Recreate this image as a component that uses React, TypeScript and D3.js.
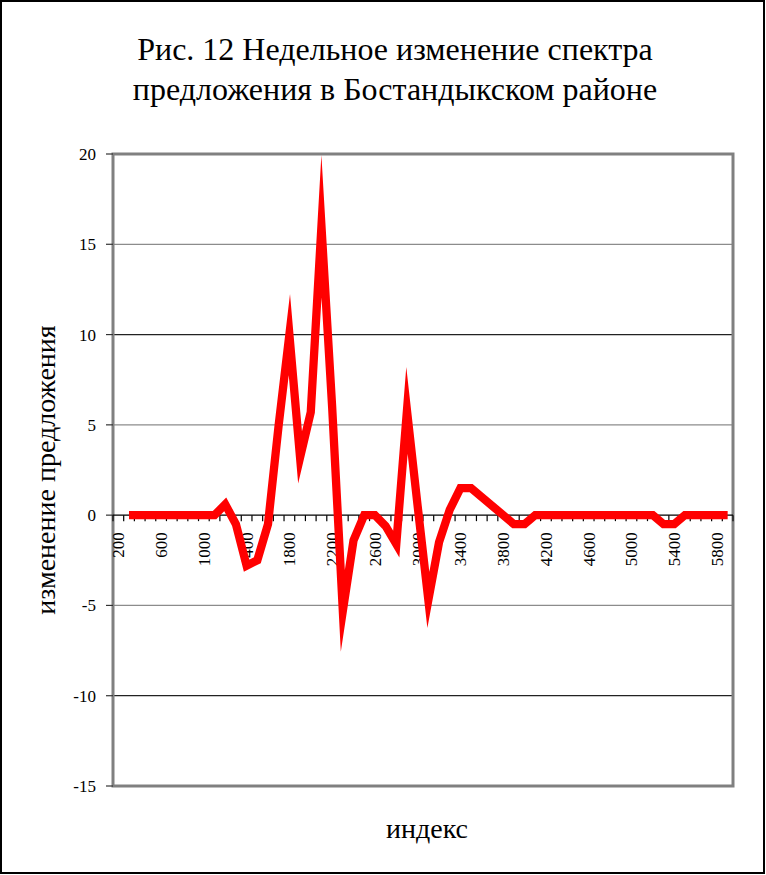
import React from "react";
import * as d3 from "d3";

const categories: number[] = [
  200, 300, 400, 500, 600, 700, 800, 900, 1000, 1100,
  1200, 1300, 1400, 1500, 1600, 1700, 1800, 1900, 2000, 2100,
  2200, 2300, 2400, 2500, 2600, 2700, 2800, 2900, 3000, 3100,
  3200, 3300, 3400, 3500, 3600, 3700, 3800, 3900, 4000, 4100,
  4200, 4300, 4400, 4500, 4600, 4700, 4800, 4900, 5000, 5100,
  5200, 5300, 5400, 5500, 5600, 5700, 5800, 5900,
];

const values: (number | null)[] = [
  null, 0, 0, 0, 0, 0, 0, 0, 0, 0,
  0.6, -0.5, -2.8, -2.5, -0.5, 5, 10, 3.2, 5.7, 16,
  6, -5.3, -1.4, 0, 0, -0.6, -1.6, 5.8, 0.5, -4.7,
  -1.5, 0.3, 1.5, 1.5, 1, 0.5, 0, -0.5, -0.5, 0,
  0, 0, 0, 0, 0, 0, 0, 0, 0, 0,
  0, -0.5, -0.5, 0, 0, 0, 0, 0,
];

const xTickLabels: number[] = [200, 600, 1000, 1400, 1800, 2200, 2600, 3000, 3400, 3800, 4200, 4600, 5000, 5400, 5800];
const yTicks: number[] = [-15, -10, -5, 0, 5, 10, 15, 20];

const titleLines = ["Рис. 12 Недельное изменение спектра", "предложения в Бостандыкском районе"];
const yTitle = "изменение предложения";
const xTitle = "индекс";

const FONT = "Liberation Serif, Times New Roman, serif";

export default function App() {
  const W = 766, H = 875;
  const left = 113, right = 733, top = 154, bottom = 786;

  const x = d3.scaleBand<string>().domain(categories.map(String)).range([left, right]).padding(0);
  const bw = x.bandwidth();
  const cx = (c: number) => (x(String(c)) as number) + bw / 2;
  const y = d3.scaleLinear().domain([-15, 20]).range([bottom, top]);

  const line = d3
    .line<number | null>()
    .defined((d) => d != null)
    .x((_, i) => cx(categories[i]))
    .y((d) => y(d as number));

  const boundaries = d3.range(categories.length + 1).map((i) => left + i * bw);

  const gridColor = (v: number) => (v === 10 || v === -10 ? "#222" : "#8c8c8c");

  return (
    <svg width={W} height={H} style={{ position: "absolute", left: 0, top: 0, background: "#fff", fontFamily: FONT }}>
      <rect x={1} y={1} width={W - 3} height={H - 3} fill="#fff" stroke="#000" strokeWidth={2} />

      {titleLines.map((t, i) => (
        <text key={i} x={395} y={60 + i * 40} textAnchor="middle" fontSize={32} fill="#000" style={{ fontFamily: FONT }}>
          {t}
        </text>
      ))}

      {yTicks
        .filter((v) => v !== 0 && v !== 20 && v !== -15)
        .map((v) => (
          <line key={v} x1={left} x2={right} y1={y(v)} y2={y(v)} stroke={gridColor(v)} strokeWidth={1.3} />
        ))}

      <rect x={left} y={top} width={right - left} height={bottom - top} fill="none" stroke="#808080" strokeWidth={3} />

      {yTicks.map((v) => (
        <g key={v}>
          <line x1={left - 7} x2={left} y1={y(v)} y2={y(v)} stroke="#333" strokeWidth={1.2} />
          <text x={96} y={y(v)} dy="0.35em" textAnchor="end" fontSize={17} fill="#000" style={{ fontFamily: FONT }}>
            {v}
          </text>
        </g>
      ))}

      <line x1={left} x2={right} y1={y(0)} y2={y(0)} stroke="#000" strokeWidth={1.3} />
      {boundaries.map((b, i) => (
        <line key={i} x1={b} x2={b} y1={y(0)} y2={y(0) + 6} stroke="#000" strokeWidth={1.2} />
      ))}
      {xTickLabels.map((c) => (
        <text
          key={c}
          transform={`translate(${cx(c)},${y(0) + 17}) rotate(-90)`}
          dy="0.35em"
          textAnchor="end"
          fontSize={17}
          fill="#000"
          style={{ fontFamily: FONT }}
        >
          {c}
        </text>
      ))}

      <path
        d={line(values) || ""}
        fill="none"
        stroke="#ff0000"
        strokeWidth={8.3}
        strokeLinejoin="miter"
        strokeMiterlimit={40}
      />

      <text
        transform={`translate(45,470) rotate(-90)`}
        dy="0.35em"
        textAnchor="middle"
        fontSize={28}
        fill="#000"
        style={{ fontFamily: FONT }}
      >
        {yTitle}
      </text>
      <text x={427} y={838} textAnchor="middle" fontSize={28} fill="#000" style={{ fontFamily: FONT }}>
        {xTitle}
      </text>
    </svg>
  );
}
